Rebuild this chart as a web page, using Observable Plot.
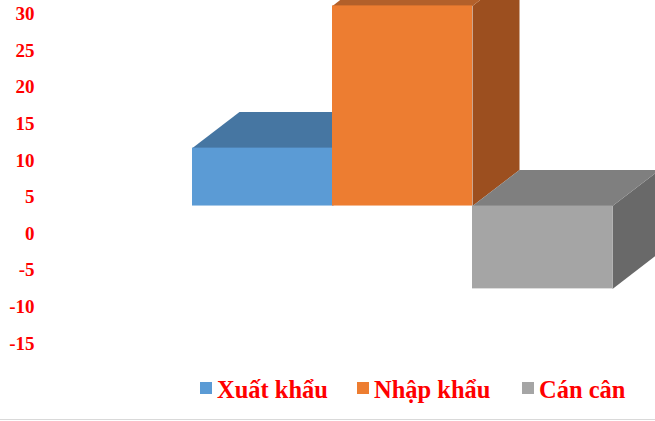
<!DOCTYPE html>
<html>
<head>
<meta charset="utf-8">
<script src="https://cdn.jsdelivr.net/npm/d3@7"></script>
<script src="https://cdn.jsdelivr.net/npm/@observablehq/plot@0.6"></script>
<style>
  html, body { margin: 0; padding: 0; background: #fff; overflow: hidden; }
  #chart svg { display: block; overflow: hidden; }
  #legend {
    position: relative; height: 49px; box-sizing: border-box;
    border-bottom: 1px solid #D9D9D9;
    font-family: "Liberation Serif", "Times New Roman", serif;
    font-weight: bold; font-size: 24.5px; line-height: 28px; color: #FF0000;
  }
  #legend .item { position: absolute; top: 5px; display: flex; align-items: center; gap: 5px; white-space: nowrap; }
  #legend .sw { width: 12px; height: 12px; position: relative; top: -2px; }
</style>
</head>
<body>
<div id="chart"></div>
<div id="legend"></div>
<script>
// Data
const categories = ["Xuất khẩu", "Nhập khẩu", "Cán cân"];
const values = [7.9, 27.3, -11.3];
const yTicks = [-15, -10, -5, 0, 5, 10, 15, 20, 25, 30];

// Styles
const frontColors = ["#5B9BD5", "#ED7D31", "#A5A5A5"];
const topColors   = ["#4676A2", "#B3602A", "#7F7F7F"];
const sideColors  = ["#3C6690", "#9C4F1F", "#696969"];
const legendLeft  = [200, 357, 522];

// 3D depth (data units of the x/y scales) and front-face shift (px)
const depthX = 47 / 140;
const depthY = 36 / 7.33;
const frontShift = -27.7;

const bars = categories.map((c, i) => ({ name: c, i, x1: i, x2: i + 1, y1: 0, y2: values[i], fill: frontColors[i] }));

const faceMarks = [];
bars.forEach(b => {
  const top = Math.max(b.y2, 0);
  const topFace = [
    { x: b.x1, y: top }, { x: b.x2, y: top },
    { x: b.x2 + depthX, y: top + depthY }, { x: b.x1 + depthX, y: top + depthY }
  ];
  const sideFace = [
    { x: b.x2, y: 0 }, { x: b.x2, y: b.y2 },
    { x: b.x2 + depthX, y: b.y2 + depthY }, { x: b.x2 + depthX, y: depthY }
  ];
  faceMarks.push(Plot.line(sideFace, { x: "x", y: "y", fill: sideColors[b.i], stroke: "none", dy: frontShift }));
  faceMarks.push(Plot.line(topFace, { x: "x", y: "y", fill: topColors[b.i], stroke: "none", dy: frontShift }));
});

const chart = Plot.plot({
  width: 655,
  height: 371,
  marginLeft: 37, marginRight: 0, marginTop: 0, marginBottom: 0,
  style: { background: "#fff", overflow: "hidden" },
  x: { type: "linear", domain: [0, 3], range: [192, 612], axis: null },
  y: { domain: [-15, 30], range: [343.2, 13.3], axis: null },
  marks: [
    ...faceMarks,
    Plot.rect(bars, { x1: "x1", x2: "x2", y1: "y1", y2: "y2", fill: "fill", dy: frontShift }),
    Plot.axisY(yTicks, {
      tickSize: 0, tickPadding: 3,
      tickFormat: d => String(d),
      fontSize: 19, fontWeight: "bold",
      fontFamily: "Liberation Serif, Times New Roman, serif",
      fill: "#FF0000", textAnchor: "end", dx: 0
    })
  ],
  color: { type: "identity" }
});
document.getElementById("chart").appendChild(chart);

const legend = document.getElementById("legend");
categories.forEach((c, i) => {
  const item = document.createElement("div");
  item.className = "item";
  item.style.left = legendLeft[i] + "px";
  const sw = document.createElement("span");
  sw.className = "sw";
  sw.style.background = frontColors[i];
  const label = document.createElement("span");
  label.textContent = c;
  item.appendChild(sw);
  item.appendChild(label);
  legend.appendChild(item);
});
</script>
</body>
</html>
